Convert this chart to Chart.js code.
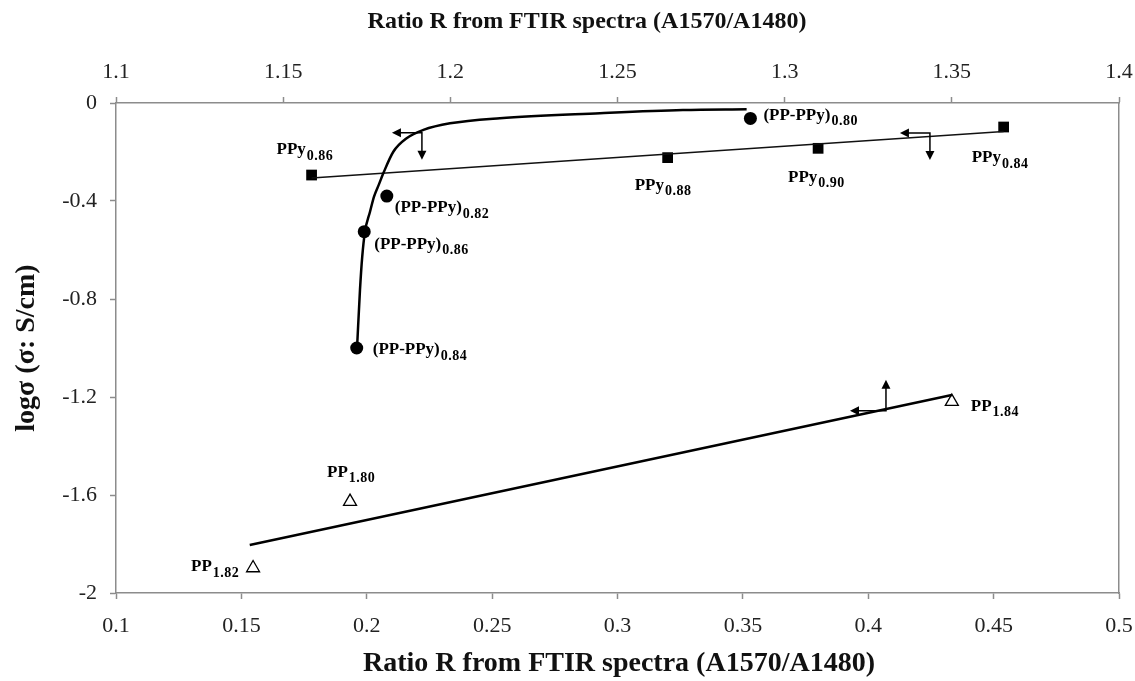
<!DOCTYPE html>
<html>
<head>
<meta charset="utf-8">
<script src="https://cdn.jsdelivr.net/npm/chart.js@4"></script>
<style>
  html, body { margin: 0; padding: 0; background: #fff; }
  #wrap { width: 1135px; height: 681px; position: relative; }
</style>
</head>
<body>
<div id="wrap"><canvas id="chart"></canvas></div>
<script>
// PP-PPy blends (bottom axis)
const ppPpyX = [0.196, 0.199, 0.208, 0.353];
const ppPpyY = [-1.00, -0.525, -0.38, -0.063];
const ppPpyNames = ['0.84', '0.86', '0.82', '0.80'];

// fitted curve through the blends
const curveX = [0.1962, 0.1973, 0.1982, 0.1993, 0.2013, 0.2029, 0.2049, 0.2066, 0.2106, 0.2159, 0.2226, 0.2332, 0.2531, 0.2930, 0.3261, 0.3515];
const curveY = [-0.985, -0.763, -0.627, -0.525, -0.444, -0.382, -0.331, -0.287, -0.199, -0.144, -0.110, -0.083, -0.062, -0.042, -0.029, -0.026];

// PPy (bottom axis)
const ppyX = [0.178, 0.320, 0.380, 0.454];
const ppyY = [-0.294, -0.223, -0.185, -0.098];
const ppyNames = ['0.86', '0.88', '0.90', '0.84'];
const ppyTrendX = [0.178, 0.454];
const ppyTrendY = [-0.306, -0.116];

// PP (top axis)
const ppX = [1.141, 1.170, 1.350];
const ppY = [-1.898, -1.627, -1.219];
const ppNames = ['1.82', '1.80', '1.84'];
const ppTrendX = [1.140, 1.350];
const ppTrendY = [-1.804, -1.192];

// axis ticks
const xBottomTicks = [0.1, 0.5, 0.05];
const xTopTicks = [1.1, 1.4, 0.05];
const yTicks = [-2, 0, 0.4];

const axisTitle = 'Ratio R from FTIR spectra (A1570/A1480)';
const yTitle = 'logσ (σ: S/cm)';

const SERIF = "'Liberation Serif', 'DejaVu Serif', serif";
const AXIS_GREY = '#8c8c8c';

const pts = (xs, ys) => xs.map((x, i) => ({ x: x, y: ys[i] }));

// label placement in pixels relative to each mark: [dx to text left, dy to text middle]
const ppPpyLabelPos = [[16, 2], [10, 13], [8, 12], [13, -3]];
const ppyLabelPos = [[-35, -25], [-33, 28], [-30, 29], [-32, 31]];
const ppLabelPos = [[-62, -1], [-23, -29], [19, 5]];

// corner arrows: anchor on a line, arms in pixels
const arrowMarks = [
  { axis: 'x', x: 0.222, y: -0.121, h: -30, v: 27 },
  { axis: 'x', x: 0.4246, y: -0.122, h: -30, v: 27 },
  { axis: 'x2', x: 1.3303, y: -1.256, h: -36, v: -31 }
];

function fmt(v) {
  return String(Math.round(v * 100) / 100);
}

function drawHead(ctx, x, y, dx, dy) {
  const len = 9, half = 4.5;
  const n = Math.hypot(dx, dy);
  const ux = dx / n, uy = dy / n;
  ctx.beginPath();
  ctx.moveTo(x, y);
  ctx.lineTo(x - ux * len - uy * half, y - uy * len + ux * half);
  ctx.lineTo(x - ux * len + uy * half, y - uy * len - ux * half);
  ctx.closePath();
  ctx.fill();
}

const annotations = {
  id: 'annotations',
  afterDatasetsDraw(chart) {
    const ctx = chart.ctx;
    const yS = chart.scales.y;
    ctx.save();

    // arrows
    ctx.strokeStyle = '#000';
    ctx.fillStyle = '#000';
    ctx.lineWidth = 1.5;
    arrowMarks.forEach(a => {
      const px = chart.scales[a.axis].getPixelForValue(a.x);
      const py = yS.getPixelForValue(a.y);
      ctx.beginPath();
      ctx.moveTo(px + a.h + 6, py);
      ctx.lineTo(px, py);
      ctx.lineTo(px, py + a.v - Math.sign(a.v) * 6);
      ctx.stroke();
      drawHead(ctx, px + a.h, py, -1, 0);
      drawHead(ctx, px, py + a.v, 0, Math.sign(a.v));
    });

    // point labels with subscripts
    const label = (axis, xs, ys, names, pos, main) => {
      xs.forEach((v, i) => {
        const px = chart.scales[axis].getPixelForValue(v) + pos[i][0];
        const py = yS.getPixelForValue(ys[i]) + pos[i][1];
        ctx.font = 'bold 17px ' + SERIF;
        ctx.textBaseline = 'middle';
        ctx.textAlign = 'left';
        ctx.letterSpacing = '0px';
        ctx.fillText(main, px, py);
        const w = ctx.measureText(main).width;
        ctx.font = 'bold 14px ' + SERIF;
        ctx.letterSpacing = '0.5px';
        ctx.fillText(names[i], px + w + 1, py + 6);
      });
    };
    label('x', ppPpyX, ppPpyY, ppPpyNames, ppPpyLabelPos, '(PP-PPy)');
    label('x', ppyX, ppyY, ppyNames, ppyLabelPos, 'PPy');
    label('x2', ppX, ppY, ppNames, ppLabelPos, 'PP');
    ctx.letterSpacing = '0px';
    ctx.restore();
  },
  afterDraw(chart) {
    const ctx = chart.ctx;
    ctx.save();
    ctx.fillStyle = '#111';
    ctx.textAlign = 'center';
    ctx.textBaseline = 'middle';
    ctx.font = 'bold 24px ' + SERIF;
    ctx.fillText(axisTitle, 587, 22);
    ctx.font = 'bold 28px ' + SERIF;
    ctx.fillText(axisTitle, 619, 664);
    ctx.translate(27, 348);
    ctx.rotate(-Math.PI / 2);
    ctx.fillText(yTitle, 0, 0);
    ctx.restore();
  }
};

const tickFont = { family: SERIF, size: 22 };
const gridOpts = { display: true, drawOnChartArea: false, drawTicks: true, tickLength: 6, tickColor: AXIS_GREY, tickWidth: 1.5 };
const borderOpts = { display: true, color: AXIS_GREY, width: 1.5 };

// fixed box sizes so the plot frame stays put; edge labels may hang past it
function fixHeight(h) {
  return s => { s.height = h; s.paddingLeft = 0; s.paddingRight = 0; };
}

new Chart(document.getElementById('chart'), {
  type: 'scatter',
  data: {
    datasets: [
      {
        type: 'line', data: pts(curveX, curveY), xAxisID: 'x',
        borderColor: '#000', borderWidth: 2.5, pointRadius: 0, cubicInterpolationMode: 'monotone', fill: false
      },
      {
        data: pts(ppPpyX, ppPpyY), xAxisID: 'x',
        pointStyle: 'circle', pointRadius: 6.5, backgroundColor: '#000', borderColor: '#000', borderWidth: 0
      },
      {
        type: 'line', data: pts(ppyTrendX, ppyTrendY), xAxisID: 'x',
        borderColor: '#111', borderWidth: 1.5, pointRadius: 0, fill: false
      },
      {
        data: pts(ppyX, ppyY), xAxisID: 'x',
        pointStyle: 'rect', pointRadius: 7.6, backgroundColor: '#000', borderColor: '#000', borderWidth: 0
      },
      {
        type: 'line', data: pts(ppTrendX, ppTrendY), xAxisID: 'x2',
        borderColor: '#000', borderWidth: 2.5, pointRadius: 0, fill: false
      },
      {
        data: pts(ppX, ppY), xAxisID: 'x2',
        pointStyle: 'triangle', pointRadius: 7.5, backgroundColor: '#fff', borderColor: '#000', borderWidth: 1.3
      }
    ]
  },
  options: {
    responsive: true,
    maintainAspectRatio: false,
    animation: false,
    layout: { padding: 0 },
    plugins: { legend: { display: false }, tooltip: { enabled: false } },
    scales: {
      x: {
        type: 'linear', position: 'bottom',
        min: xBottomTicks[0], max: xBottomTicks[1],
        ticks: { stepSize: xBottomTicks[2], autoSkip: false, maxRotation: 0, padding: 14, color: '#222', font: tickFont, callback: fmt },
        grid: gridOpts, border: borderOpts,
        afterFit: fixHeight(88)
      },
      x2: {
        type: 'linear', position: 'top',
        min: xTopTicks[0], max: xTopTicks[1],
        ticks: { stepSize: xTopTicks[2], autoSkip: false, maxRotation: 0, padding: 12, color: '#222', font: tickFont, callback: fmt },
        grid: gridOpts, border: borderOpts,
        afterFit: fixHeight(103)
      },
      y: {
        type: 'linear', position: 'left',
        min: yTicks[0], max: yTicks[1],
        ticks: { stepSize: yTicks[2], padding: 13, color: '#222', font: tickFont, callback: fmt },
        grid: gridOpts, border: borderOpts,
        afterFit: s => { s.width = 116; }
      },
      y2: {
        type: 'linear', position: 'right',
        min: yTicks[0], max: yTicks[1],
        ticks: { display: false },
        grid: { display: true, drawOnChartArea: false, drawTicks: false },
        border: borderOpts,
        afterFit: s => { s.width = 16; }
      }
    }
  },
  plugins: [annotations]
});
</script>
</body>
</html>
